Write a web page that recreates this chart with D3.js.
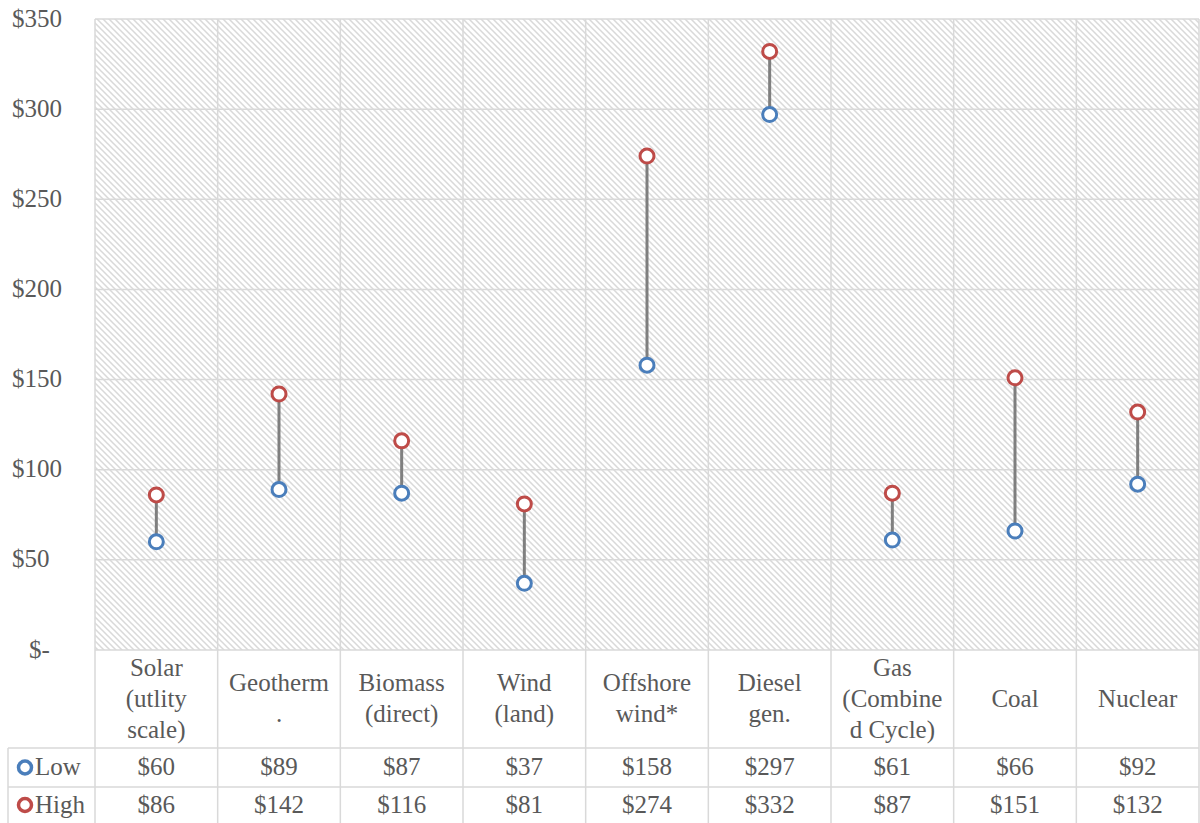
<!DOCTYPE html>
<html>
<head>
<meta charset="utf-8">
<script src="https://cdn.jsdelivr.net/npm/d3@7"></script>
<style>
  body { margin: 0; background: #fff; }
  svg text { font-family: "Liberation Serif", "Times New Roman", serif; fill: #595959; }
</style>
</head>
<body>
<div id="chart"></div>
<script>
// data
const categories = [
  ["Solar", "(utlity", "scale)"],
  ["Geotherm", "."],
  ["Biomass", "(direct)"],
  ["Wind", "(land)"],
  ["Offshore", "wind*"],
  ["Diesel", "gen."],
  ["Gas", "(Combine", "d Cycle)"],
  ["Coal"],
  ["Nuclear"]
];
const lowValues = [60, 89, 87, 37, 158, 297, 61, 66, 92];
const highValues = [86, 142, 116, 81, 274, 332, 87, 151, 132];
const yTicks = [0, 50, 100, 150, 200, 250, 300, 350];

const width = 1200, height = 823;
const margin = {top: 19, right: 1, bottom: 173, left: 95};
const plotBottom = height - margin.bottom; // 650
const gridColor = "#d9d9d9";
const blue = "#4a7ebb", red = "#be4b48";
const fontSize = "25px";

let svg = d3.select("#chart")
  .append("svg")
  .attr("width", width)
  .attr("height", height);

// hatch pattern
let defs = svg.append("defs");
let pat = defs.append("pattern")
  .attr("id", "hatch")
  .attr("patternUnits", "userSpaceOnUse")
  .attr("width", 6)
  .attr("height", 6);
pat.append("rect").attr("width", 6).attr("height", 6).attr("fill", "#fff");
pat.append("path")
  .attr("d", "M-1,-1 L7,7 M-1,5 L1,7 M5,-1 L7,1")
  .attr("stroke", "#d9d9d9")
  .attr("stroke-width", 1.5);

let x = d3.scaleBand()
  .domain(d3.range(categories.length))
  .range([margin.left, width - margin.right]);

let y = d3.scaleLinear()
  .domain([0, 350])
  .range([plotBottom, margin.top]);

// plot background
svg.append("rect")
  .attr("x", margin.left)
  .attr("y", margin.top)
  .attr("width", width - margin.right - margin.left)
  .attr("height", plotBottom - margin.top)
  .attr("fill", "url(#hatch)");

// horizontal gridlines
svg.append("g")
  .selectAll("line")
  .data(yTicks)
  .join("line")
  .attr("x1", margin.left)
  .attr("x2", width - margin.right)
  .attr("y1", d => y(d))
  .attr("y2", d => y(d))
  .attr("stroke", gridColor)
  .attr("stroke-width", 1.5);

// vertical lines (category borders through plot and table)
const tableTop = plotBottom, catRowBottom = 748, lowRowBottom = 787;
let borders = d3.range(categories.length + 1).map(i => i < categories.length ? x(i) : width - margin.right);
svg.append("g")
  .selectAll("line")
  .data(borders)
  .join("line")
  .attr("x1", d => d)
  .attr("x2", d => d)
  .attr("y1", margin.top)
  .attr("y2", height)
  .attr("stroke", gridColor)
  .attr("stroke-width", 1.5);

// table horizontal rules
svg.append("g")
  .selectAll("line")
  .data([catRowBottom, lowRowBottom])
  .join("line")
  .attr("x1", 8)
  .attr("x2", width - margin.right)
  .attr("y1", d => d)
  .attr("y2", d => d)
  .attr("stroke", gridColor)
  .attr("stroke-width", 1.5);
svg.append("line")
  .attr("x1", 8).attr("x2", 8)
  .attr("y1", catRowBottom).attr("y2", height)
  .attr("stroke", gridColor).attr("stroke-width", 1.5);

// y axis labels
svg.append("g")
  .selectAll("text")
  .data(yTicks)
  .join("text")
  .attr("x", d => d === 0 ? 29 : 12)
  .attr("y", d => y(d))
  .attr("dy", "0.3em")
  .style("font-size", fontSize)
  .text(d => d === 0 ? "$-" : "$" + d);

// connecting lines
svg.append("g")
  .selectAll("line")
  .data(d3.range(categories.length))
  .join("line")
  .attr("x1", i => x(i) + x.bandwidth() / 2)
  .attr("x2", i => x(i) + x.bandwidth() / 2)
  .attr("y1", i => y(lowValues[i]))
  .attr("y2", i => y(highValues[i]))
  .attr("stroke", "#7f7f7f")
  .attr("stroke-width", 3);

// markers
function drawMarkers(vals, color) {
  svg.append("g")
    .selectAll("circle")
    .data(vals)
    .join("circle")
    .attr("cx", (d, i) => x(i) + x.bandwidth() / 2)
    .attr("cy", d => y(d))
    .attr("r", 7)
    .attr("fill", "#fff")
    .attr("stroke", color)
    .attr("stroke-width", 3);
}
drawMarkers(lowValues, blue);
drawMarkers(highValues, red);

// category labels
const lineH = 31;
let catG = svg.append("g");
categories.forEach((lines, i) => {
  let t = catG.append("text")
    .attr("x", x(i) + x.bandwidth() / 2)
    .attr("text-anchor", "middle")
    .style("font-size", fontSize);
  let cy = (tableTop + catRowBottom) / 2;
  let startY = cy - (lines.length - 1) * lineH / 2;
  lines.forEach((ln, j) => {
    t.append("tspan")
      .attr("x", x(i) + x.bandwidth() / 2)
      .attr("y", startY + j * lineH)
      .attr("dy", "0.3em")
      .text(ln);
  });
});

// data rows
const rows = [
  {name: "Low", vals: lowValues, color: blue, top: catRowBottom, bottom: lowRowBottom},
  {name: "High", vals: highValues, color: red, top: lowRowBottom, bottom: height}
];
rows.forEach(r => {
  let cy = (r.top + r.bottom) / 2;
  svg.append("circle")
    .attr("cx", 25).attr("cy", cy)
    .attr("r", 6.5)
    .attr("fill", "#fff")
    .attr("stroke", r.color)
    .attr("stroke-width", 3.5);
  svg.append("text")
    .attr("x", 35).attr("y", cy).attr("dy", "0.3em")
    .style("font-size", fontSize)
    .text(r.name);
  svg.append("g")
    .selectAll("text")
    .data(r.vals)
    .join("text")
    .attr("x", (d, i) => x(i) + x.bandwidth() / 2)
    .attr("y", cy)
    .attr("dy", "0.3em")
    .attr("text-anchor", "middle")
    .style("font-size", fontSize)
    .text(d => "$" + d);
});
</script>
</body>
</html>
